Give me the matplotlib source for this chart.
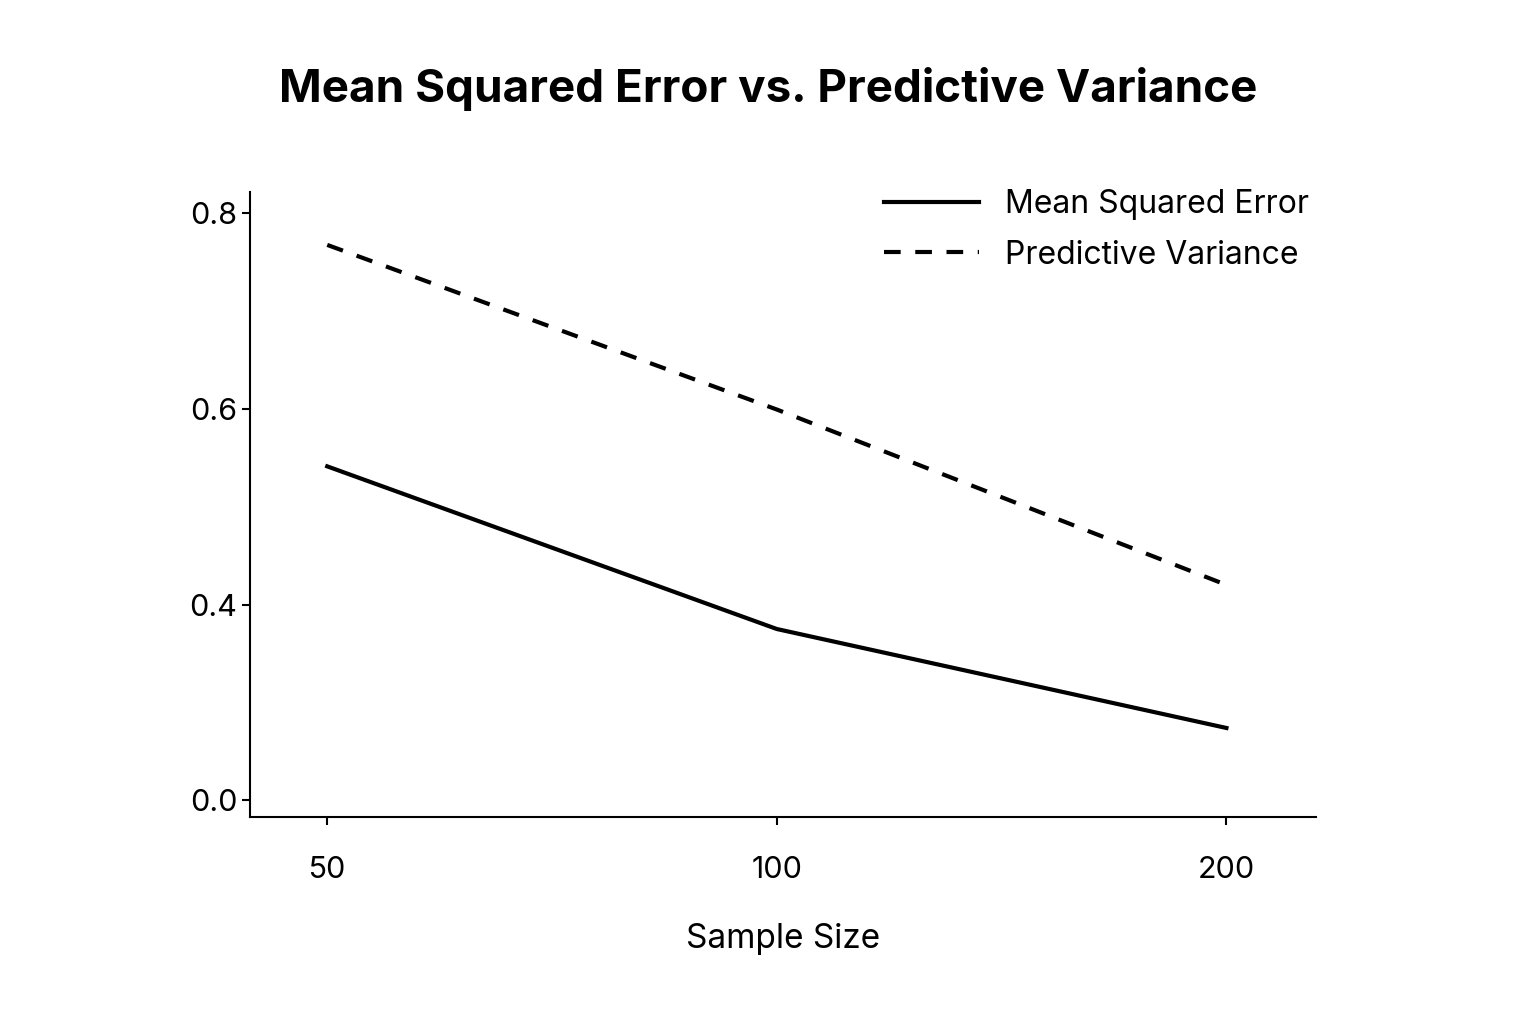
import matplotlib.pyplot as plt

plt.rcParams['font.family'] = 'Inter'

sample_sizes = ['50', '100', '200']
mse = [0.541, 0.375, 0.274]
pred_var = [0.767, 0.599, 0.420]
ytick_vals = [0.2, 0.4, 0.6, 0.8]
ytick_labels = ['0.0', '0.4', '0.6', '0.8']

x = range(len(sample_sizes))

fig = plt.figure(figsize=(15.36, 10.24), dpi=100)
ax = fig.add_axes([0.163, 0.202, 0.694, 0.6105])

ax.plot(x, mse, color='black', lw=3, label='Mean Squared Error')
ax.plot(x, pred_var, color='black', lw=3, ls=(0, (4, 3.5)), label='Predictive Variance')

ax.set_xlim(-0.171, 2.2)
ax.set_ylim(0.183, 0.821)
ax.set_xticks(list(x))
ax.set_xticklabels(sample_sizes)
ax.set_yticks(ytick_vals)
ax.set_yticklabels(ytick_labels)
ax.tick_params(labelsize=22, width=1.5, length=6)
ax.tick_params(axis='x', pad=22)
for s in ['top', 'right']:
    ax.spines[s].set_visible(False)
for s in ['left', 'bottom']:
    ax.spines[s].set_linewidth(1.5)

ax.set_xlabel('Sample Size', fontsize=24, labelpad=28)
fig.suptitle('Mean Squared Error vs. Predictive Variance', fontsize=33,
             fontweight='bold', y=0.935)
ax.legend(loc='upper right', bbox_to_anchor=(1.02, 1.05), frameon=False,
          fontsize=23, handlelength=3, labelspacing=0.6)

fig.savefig('out.png')
